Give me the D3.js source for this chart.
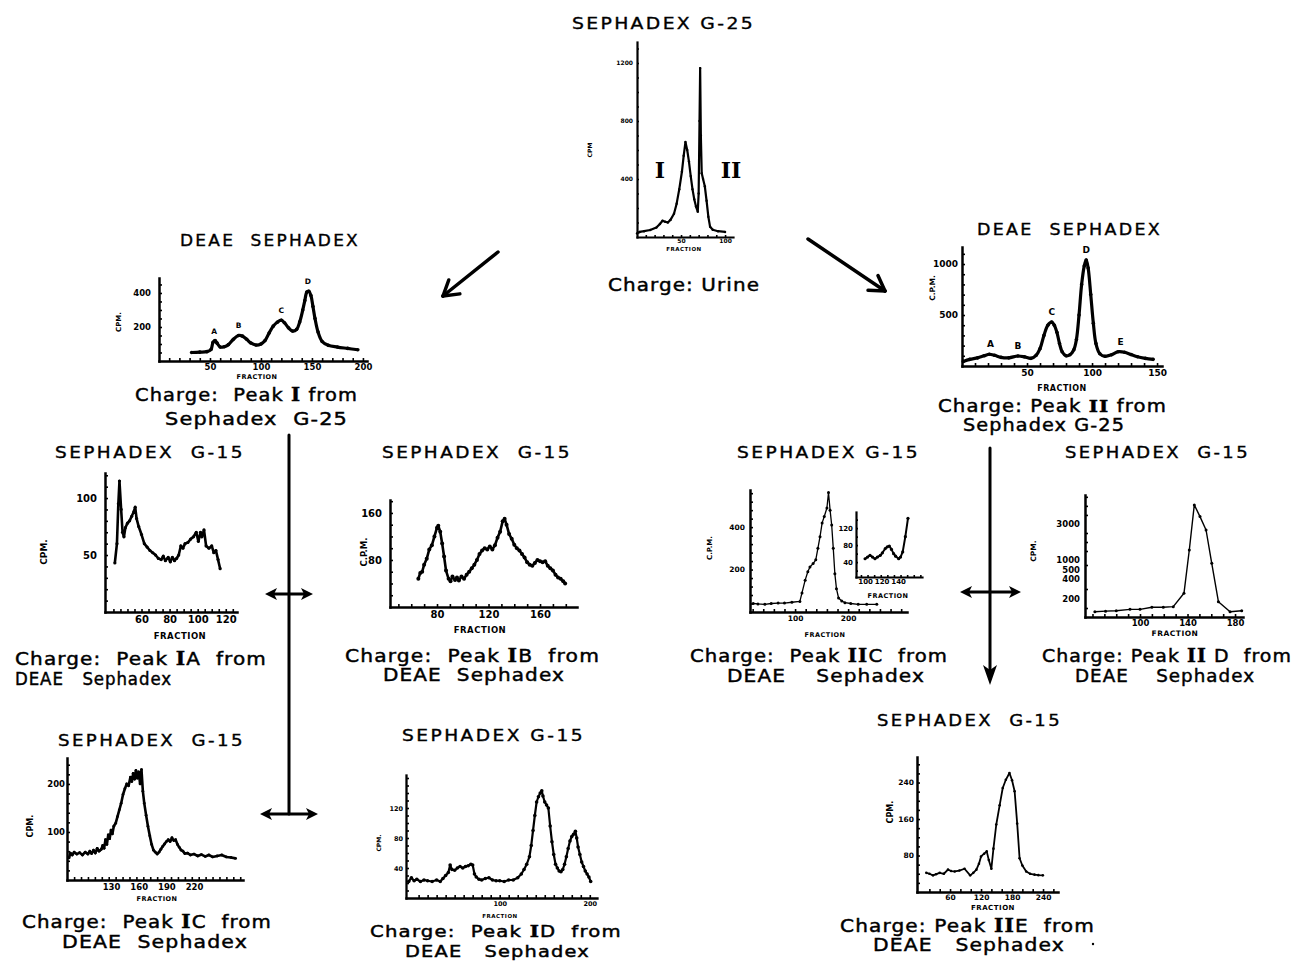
<!DOCTYPE html>
<html><head><meta charset="utf-8">
<script src="https://cdn.jsdelivr.net/npm/d3@7"></script>
<style>body{margin:0;background:#fff}svg{display:block}</style>
</head><body>
<svg id="c" width="1295" height="963"></svg>
<script>
// ---------------- DATA (fraction, cpm) ----------------
const g25Points = [[0,25],[3,35],[8,40],[15,48],[22,65],[26,90],[29,112],[32,105],[35,100],[38,118],[42,160],[45,230],[48,330],[51,450],[53,560],[55,655],[57,600],[59,520],[61,420],[63,330],[65,260],[67,210],[69,175],[70,300],[71,800],[71.7,1165],[72.5,700],[73.5,440],[75,400],[77,350],[79,250],[81,140],[83,70],[86,50],[92,40],[100,35]];
const g25XTicks = [50,100];
const g25YTicks = [400,800,1200];

const deaeIPoints = [[32,50],[40,52],[47,55],[51,68],[53,110],[55,120],[57,105],[60,82],[64,84],[68,96],[73,128],[78,150],[82,146],[86,128],[90,106],[95,94],[100,100],[104,120],[108,165],[112,205],[116,228],[120,240],[123,225],[127,195],[131,176],[135,186],[138,230],[141,300],[143,355],[145,405],[147,410],[149,385],[151,320],[153,250],[156,170],[160,115],[166,92],[175,82],[185,74],[195,66]];
const deaeIPeaks = [["A",54,120],["B",78,150],["C",120,240],["D",146,410]];
const deaeIXTicks = [50,100,150,200];
const deaeIYTicks = [200,400];

const deaeIIPoints = [[1,45],[6,65],[12,80],[17,100],[21,115],[25,105],[30,85],[36,80],[43,98],[48,90],[53,75],[57,105],[60,170],[63,300],[66,400],[69,430],[71,400],[73,330],[75,220],[77,140],[80,100],[83,110],[86,160],[88,260],[90,500],[92,800],[94,980],[95.5,1040],[97,960],[99,700],[101,420],[103,220],[106,120],[110,95],[115,110],[120,140],[125,135],[130,112],[135,90],[141,75],[147,65]];
const deaeIIPeaks = [["A",22,115],["B",43,98],["C",69,430],["D",95.5,1040],["E",122,140]];
const deaeIIXTicks = [50,100,150];
const deaeIIYTicks = [500,1000];

const iaPoints = [[41,43],[42.5,60],[43.5,95],[44.3,115],[45.5,90],[46.5,70],[47.5,66],[48.5,74],[50,78],[51.5,80],[53,84],[54.5,88],[55.5,92],[56.5,82],[58,75],[60,68],[62,60],[64,57],[66,54],[68,52],[70,50],[72,47],[74,46],[75.5,49],[77,45],[79,48],[80.5,44],[82,48],[83.5,45],[85,47],[86.5,50],[88,58],[89.5,56],[91,60],[93,61],[95,64],[97,66],[99,70],[100.5,62],[102,70],[103,66],[104.5,72],[106,58],[108,56],[110,58],[111.5,52],[113,54],[114.5,46],[116,38]];
const iaXTicks = [60,80,100,120];
const iaYTicks = [50,100];

const ibPoints = [[65.5,48],[67,58],[68.5,60],[70,72],[72,82],[74,98],[76,105],[78,120],[80,135],[81,138],[82.5,128],[84,108],[85.5,86],[87,62],[89,48],[90.5,44],[92,52],[94,46],[95.5,50],[97,45],[99,52],[101,48],[103,55],[105,60],[107,66],[109,72],[111,80],[113,90],[115,96],[117,100],[119,98],[121,103],[123,98],[125,105],[127,118],[129,128],[131,146],[132.5,150],[134,140],[136,124],[138,116],[140,106],[142,100],[144,96],[146,90],[148,84],[150,76],[152,72],[154,70],[156,75],[158,80],[160,78],[162,76],[164,78],[166,70],[168,66],[170,62],[172,55],[174,50],[176,48],[178,44],[179.5,40]];
const ibXTicks = [80,120,160];
const ibYTicks = [80,160];

const iicPoints = [[21,40],[30,38],[43,36],[55,40],[68,42],[80,42],[94,46],[109,50],[113,90],[119,150],[124,190],[128,212],[134,228],[139,246],[143,300],[147,355],[151,420],[155,450],[160,490],[163,563],[166,480],[169,410],[172,300],[175,180],[178,110],[182,66],[188,52],[194,44],[205,40],[219,36],[235,36],[254,36]];
const iicXTicks = [100,200];
const iicYTicks = [200,400];
const iicInsetPoints = [[100,48],[103,52],[106,56],[109,52],[112,48],[115,52],[118.5,56],[121,62],[124.5,72],[127,76],[129.4,78],[132,70],[134.6,60],[137,54],[140.7,48],[143,52],[145.6,64],[148.8,100],[152,143]];
const iicInsetXTicks = [100,120,140];
const iicInsetYTicks = [40,80,120];

const iidPoints = [[62,59],[71,65],[80,70],[91.6,85],[100,85],[110,108],[119.6,108],[128,115],[137,257],[141.5,1556],[145.7,4055],[150.5,3407],[155.6,2667],[160.4,833],[166,170],[175.8,59],[185.6,70]];
const iidXTicks = [100,140,180];
const iidYTicks = [200,400,500,1000,3000];

const icPoints = [[84.5,46],[86,56],[88,52],[90,58],[93,54],[96,57],[99,52],[102,58],[105,54],[107,60],[109,55],[111,62],[113,56],[115,66],[117,60],[119.5,64],[121,72],[122.5,66],[124,84],[125.5,74],[127,94],[128.5,86],[130,104],[131.5,96],[133,112],[135,118],[137,132],[139,146],[141,160],[143,178],[145,190],[147,200],[149,196],[151,214],[152.5,205],[154,222],[155.5,210],[157,228],[158.5,212],[160,225],[161.5,200],[163,230],[164.5,185],[166,160],[168,135],[170,112],[172,92],[174,74],[176,62],[178,58],[180,54],[182,58],[184,64],[186,70],[188,75],[190,80],[192,84],[194,80],[196,88],[198,82],[200,84],[202,74],[204,68],[206,62],[208,60],[210,55],[213,56],[216,52],[220,54],[224,50],[228,53],[232,49],[236,52],[240,48],[245,50],[250,52],[255,48],[260,47],[265,45]];
const icXTicks = [130,160,190,220];
const icYTicks = [100,200];

const idPoints = [[-1,22],[2,27],[5,23],[8,25],[12,22],[16,24],[20,23],[25,22],[30,24],[34,22],[37,26],[40,30],[43,34],[45,44],[47,38],[50,37],[53,40],[56,42],[59,40],[62,42],[65,43],[68,45],[70,44],[72,32],[74,28],[77,25],[80,24],[84,26],[88,27],[92,24],[96,23],[100,23],[105,22],[110,24],[115,24],[120,27],[124,32],[127,38],[130,45],[133,55],[135,70],[137,90],[139,110],[141,128],[143,135],[145,140],[146.7,143],[148,136],[150,128],[152,124],[154,120],[156,96],[158,75],[160,58],[162,45],[164,40],[166,36],[168,35],[170,38],[172,45],[174,55],[176,66],[178,76],[180,82],[182,85],[184,89],[185.5,80],[187,68],[189,58],[191,48],[193,42],[195,36],[197,32],[199,28],[201,22]];
const idXTicks = [100,200];
const idYTicks = [40,80,120];

const iiePoints = [[14,42],[20,40],[27,36.5],[33,39],[40,42],[48,40],[56,49],[62,46],[69,45],[78,47],[88,51],[99,36.5],[105,42],[111,49],[116,62],[120,78],[126,84],[131,89],[135,70],[140,51],[144,95],[149.5,148],[156,190],[162,228],[168,246],[175,261],[180,245],[185,221],[190,150],[194.6,74],[200,58],[207.5,45],[215,40],[223.6,38],[231,37],[239.7,36.5]];
const iieXTicks = [60,120,180,240];
const iieYTicks = [80,160,240];

// ---------------- DRAWING ----------------
const svg = d3.select("#c");
const SANS = "DejaVu Sans, Verdana, sans-serif";
const SERIF = "DejaVu Serif, Liberation Serif, serif";

function txt(x, y, parts, size, o = {}) {
  const t = svg.append("text").attr("x", x).attr("y", y)
    .attr("font-family", SANS).attr("font-size", size)
    .attr("font-weight", o.weight || "normal")
    .attr("text-anchor", o.anchor || "start")
    .attr("fill", "#000")
    .style("white-space", "pre");
  if (o.ls) t.attr("letter-spacing", o.ls);
  if (o.sw) t.attr("stroke", "#000").attr("stroke-width", o.sw);
  if (o.rot) t.attr("transform", `rotate(-90,${x},${y})`);
  (Array.isArray(parts) ? parts : [[parts]]).forEach(p => {
    const s = t.append("tspan").text(p[0]);
    if (p[1]) s.attr("font-family", SERIF).attr("font-weight", "bold");
  });
  if (o.len) t.attr("textLength", o.len).attr("lengthAdjust", "spacingAndGlyphs");
  return t;
}
const T = { ls: 2, sw: 0.35 };      // panel titles
const C = { ls: 1, sw: 0.45 };      // charge captions

function panel(p) {
  const g = svg.append("g");
  const x = d3.scaleLinear().domain(p.xd).range(p.xr);
  const y = p.yScale || d3.scaleLinear().domain(p.yd).range(p.yr);
  const yb = p.yr[0], xl = p.xr[0];
  const aw = p.aw || 2.5;
  const tk = p.tk || 3;
  const fmt = d3.format("d");
  const ax = g.append("g").attr("transform", `translate(0,${yb})`)
    .call(d3.axisBottom(x).tickValues(p.xMinor).tickSizeInner(-tk).tickSizeOuter(0).tickFormat(""));
  const ay = g.append("g").attr("transform", `translate(${xl},0)`)
    .call(d3.axisLeft(y).tickValues(p.yMinor).tickSizeInner(-tk).tickSizeOuter(0).tickFormat(""));
  [ax, ay].forEach(a => {
    a.select(".domain").attr("stroke", "#000").attr("stroke-width", aw).attr("stroke-linecap", "square");
    a.selectAll(".tick line").attr("stroke", "#000").attr("stroke-width", 1.6);
  });
  const lx = g.append("g").attr("transform", `translate(0,${yb})`)
    .call(d3.axisBottom(x).tickValues(p.xTicks).tickSize(0).tickPadding(p.xpad || 3).tickFormat(fmt));
  const ly = g.append("g").attr("transform", `translate(${xl},0)`)
    .call(d3.axisLeft(y).tickValues(p.yTicks).tickSize(0).tickPadding(p.ypad || 4).tickFormat(fmt));
  [lx, ly].forEach(a => {
    a.select(".domain").remove();
    a.selectAll("text").attr("font-family", SANS).attr("font-size", p.fs || 9)
      .attr("font-weight", "bold").attr("fill", "#000");
  });
  const line = d3.line().x(d => x(d[0])).y(d => y(d[1]))
    .curve(p.smooth ? d3.curveCatmullRom.alpha(0.5) : d3.curveLinear);
  g.append("path").datum(p.data).attr("d", line)
    .attr("fill", "none").attr("stroke", "#000")
    .attr("stroke-width", p.lw || 2.5).attr("stroke-linejoin", "round");
  if (p.dots) {
    g.selectAll("circle.pt").data(p.data).join("circle").attr("class", "pt")
      .attr("cx", d => x(d[0])).attr("cy", d => y(d[1])).attr("r", p.dots).attr("fill", "#000");
  }
  if (p.peaks) {
    p.peaks.forEach(k => {
      txt(x(k[1]), y(k[2]) - (p.peakOff || 7), k[0], p.peakFs || 8, { anchor: "middle", weight: "bold" });
    });
  }
  if (p.frac) txt(p.frac[0], p.frac[1], "FRACTION", p.frac[2], { anchor: "middle", weight: "bold", ls: 0.5 });
  if (p.cpm) txt(p.cpm[0], p.cpm[1], p.cpm[3] || "CPM.", p.cpm[2], { anchor: "middle", weight: "bold", rot: true });
  return { x, y };
}

// ---- Sephadex G-25 (top) ----
panel({ xd: [0, 109], xr: [637, 733], yd: [0, 1345], yr: [237, 42],
  xMinor: d3.range(10, 110, 10), yMinor: d3.range(100, 1345, 100),
  xTicks: g25XTicks, yTicks: g25YTicks, fs: 6, aw: 2.2, tk: 2, xpad: 2, ypad: 4,
  data: g25Points, lw: 2.2, dots: 1.2, frac: [684, 251, 5.5], cpm: [592, 150, 6, "CPM"] });
txt(572, 29, "SEPHADEX G-25", 16, { ...T, len: 183 });
txt(660, 178, [["I", 1]], 22, { anchor: "middle" });
txt(731, 178, [["II", 1]], 22, { anchor: "middle" });
txt(608, 291, "Charge: Urine", 18, { ...C, len: 152 });

// ---- DEAE Sephadex (peak I) ----
panel({ xd: [0, 204], xr: [159, 367], yd: [0, 488], yr: [361, 278],
  xMinor: d3.range(10, 204, 10), yMinor: d3.range(50, 488, 50),
  xTicks: deaeIXTicks, yTicks: deaeIYTicks, fs: 8.5, aw: 2.5, xpad: 3, ypad: 8,
  data: deaeIPoints, lw: 3.2, dots: 1.8, smooth: true, peaks: deaeIPeaks, peakFs: 7.5,
  frac: [257, 379, 6.5], cpm: [121, 322, 7, "CPM."] });
txt(180, 246, "DEAE\u00A0\u00A0SEPHADEX", 15, { ...T, len: 180 });
txt(135, 401, [["Charge:  Peak "], ["I", 1], [" from"]], 18, { ...C, len: 223 });
txt(165, 425, "Sephadex  G-25", 18, { ...C, len: 183 });

// ---- DEAE Sephadex (peak II) ----
panel({ xd: [0, 153.8], xr: [962, 1162], yd: [0, 1167], yr: [366, 247],
  xMinor: d3.range(10, 154, 10), yMinor: d3.range(100, 1167, 100),
  xTicks: deaeIIXTicks, yTicks: deaeIIYTicks, fs: 9, aw: 2.5, xpad: 4, ypad: 4,
  data: deaeIIPoints, lw: 3.2, dots: 1.8, smooth: true, peaks: deaeIIPeaks, peakFs: 9,
  frac: [1062, 391, 8], cpm: [935, 288, 7.5, "C.P.M."] });
txt(977, 235, "DEAE\u00A0\u00A0SEPHADEX", 15, { ...T, len: 185 });
txt(938, 412, [["Charge: Peak "], ["II", 1], [" from"]], 17.5, { ...C, len: 229 });
txt(963, 431, "Sephadex G-25", 17.5, { ...C, len: 162 });

// ---- G-15, Peak IA ----
panel({ xd: [34, 128], xr: [105, 237], yd: [0, 122], yr: [612, 473],
  xMinor: d3.range(40, 128, 5), yMinor: d3.range(10, 122, 10),
  xTicks: iaXTicks, yTicks: iaYTicks, fs: 10, aw: 2.5, xpad: 4, ypad: 8,
  data: iaPoints, lw: 2.6, dots: 1.6, frac: [180, 639, 8.5], cpm: [47, 552, 9, "CPM."] });
txt(55, 458, "SEPHADEX  G-15", 15, { ...T, len: 190 });
txt(15, 665, [["Charge:  Peak "], ["I", 1], ["A  from"]], 18, { ...C, len: 252 });
txt(15, 685, "DEAE\u00A0\u00A0\u00A0Sephadex", 18, { ...C, len: 157 });

// ---- G-15, Peak IB ----
panel({ xd: [43.5, 188.7], xr: [390, 577], yd: [0, 182], yr: [607, 500],
  xMinor: d3.range(50, 188, 10), yMinor: d3.range(20, 182, 20),
  xTicks: ibXTicks, yTicks: ibYTicks, fs: 10, aw: 2.5, xpad: 4, ypad: 8,
  data: ibPoints, lw: 2.6, dots: 2, frac: [480, 633, 8.5], cpm: [367, 552, 8.5, "C.P.M."] });
txt(382, 458, "SEPHADEX  G-15", 15, { ...T, len: 190 });
txt(345, 662, [["Charge:  Peak "], ["I", 1], ["B  from"]], 18, { ...C, len: 255 });
txt(383, 681, "DEAE  Sephadex", 18, { ...C, len: 182 });

// ---- G-15, Peak IIC ----
panel({ xd: [15, 311], xr: [750, 907], yd: [0, 575], yr: [612, 490],
  xMinor: d3.range(20, 311, 20), yMinor: d3.range(40, 575, 40),
  xTicks: iicXTicks, yTicks: iicYTicks, fs: 7.5, aw: 2.5, xpad: 4, ypad: 5,
  data: iicPoints, lw: 1.3, dots: 1.5, frac: [825, 637, 6.5], cpm: [712, 548, 7, "C.P.M."] });
panel({ xd: [89, 169], xr: [856, 922], yd: [5, 158], yr: [577, 512],
  xMinor: d3.range(95, 169, 8), yMinor: d3.range(20, 158, 20),
  xTicks: iicInsetXTicks, yTicks: iicInsetYTicks, fs: 7, aw: 2.2, tk: 2, xpad: 2, ypad: 3,
  data: iicInsetPoints, lw: 2, dots: 1.6, frac: [888, 598, 6.5] });
txt(737, 458, "SEPHADEX G-15", 15, { ...T, len: 183 });
txt(690, 662, [["Charge:  Peak "], ["II", 1], ["C  from"]], 18, { ...C, len: 258 });
txt(727, 682, "DEAE\u00A0\u00A0\u00A0\u00A0Sephadex", 18, { ...C, len: 198 });

// ---- G-15, Peak IID (uneven CPM axis) ----
const iidY = d3.scaleLinear().domain([0, 200, 400, 500, 1000, 3000, 4600]).range([617, 599, 579, 570, 560, 524, 495]);
panel({ xd: [53.7, 186.7], xr: [1085, 1243], yScale: iidY, yr: [617, 495],
  xMinor: d3.range(60, 186, 10), yMinor: [100, 300, 750, 1500, 2000, 2500, 3500, 4000, 4500],
  xTicks: iidXTicks, yTicks: iidYTicks, fs: 8.5, aw: 2.5, xpad: 3, ypad: 5,
  data: iidPoints, lw: 1.4, dots: 1.5, frac: [1175, 636, 7.5], cpm: [1036, 551, 7.5, "CPM."] });
txt(1065, 458, "SEPHADEX  G-15", 15, { ...T, len: 185 });
txt(1042, 662, [["Charge: Peak "], ["II", 1], [" D  from"]], 18, { ...C, len: 250 });
txt(1075, 682, "DEAE\u00A0\u00A0\u00A0\u00A0Sephadex", 18, { ...C, len: 180 });

// ---- G-15, Peak IC ----
panel({ xd: [82.3, 273], xr: [67, 243], yd: [0, 254], yr: [880, 758],
  xMinor: d3.range(90, 273, 7.5), yMinor: d3.range(20, 254, 20),
  xTicks: icXTicks, yTicks: icYTicks, fs: 8.5, aw: 2.5, xpad: 4, ypad: 2,
  data: icPoints, lw: 2.6, dots: 1.4, frac: [157, 901, 6.5], cpm: [33, 826, 8, "CPM."] });
txt(58, 746, "SEPHADEX  G-15", 15, { ...T, len: 187 });
txt(22, 928, [["Charge:  Peak "], ["I", 1], ["C  from"]], 18, { ...C, len: 250 });
txt(62, 948, "DEAE\u00A0\u00A0Sephadex", 18, { ...C, len: 186 });

// ---- G-15, Peak ID ----
panel({ xd: [-4, 208], xr: [406, 597], yd: [0, 164], yr: [898, 775],
  xMinor: d3.range(10, 208, 10), yMinor: d3.range(10, 164, 10),
  xTicks: idXTicks, yTicks: idYTicks, fs: 6.5, aw: 2.3, xpad: 3, ypad: 3,
  data: idPoints, lw: 2.2, dots: 1.8, frac: [500, 918, 5.5], cpm: [381, 843, 6, "CPM."] });
txt(402, 741, "SEPHADEX G-15", 15, { ...T, len: 183 });
txt(370, 937, [["Charge:  Peak "], ["I", 1], ["D  from"]], 16, { ...C, len: 252 });
txt(405, 957, "DEAE\u00A0\u00A0\u00A0Sephadex", 16, { ...C, len: 185 });

// ---- G-15, Peak IIE ----
panel({ xd: [-4, 269], xr: [917, 1058], yd: [0, 296], yr: [892, 757],
  xMinor: d3.range(20, 269, 20), yMinor: d3.range(20, 296, 20),
  xTicks: iieXTicks, yTicks: iieYTicks, fs: 7.5, aw: 2.5, xpad: 3, ypad: 3,
  data: iiePoints, lw: 1.8, dots: 1.3, frac: [993, 910, 7], cpm: [893, 812, 8, "CPM."] });
txt(877, 726, "SEPHADEX  G-15", 15, { ...T, len: 185 });
txt(840, 932, [["Charge: Peak "], ["II", 1], ["E  from"]], 18, { ...C, len: 255 });
txt(873, 951, "DEAE\u00A0\u00A0\u00A0Sephadex", 18, { ...C, len: 192 });
svg.append("circle").attr("cx", 1093).attr("cy", 944).attr("r", 1.2).attr("fill", "#000");

// ---------------- ARROWS / CONNECTORS ----------------
function seg(x1, y1, x2, y2, w) {
  svg.append("line").attr("x1", x1).attr("y1", y1).attr("x2", x2).attr("y2", y2)
    .attr("stroke-width", w).attr("stroke", "#000").attr("stroke-linecap", "round");
}
function vHead(x1, y1, x2, y2, len, ang, w) {
  const a = Math.atan2(y2 - y1, x2 - x1);
  [ang, -ang].forEach(s => seg(x2, y2, x2 - len * Math.cos(a + s), y2 - len * Math.sin(a + s), w));
}
function triHead(tx, ty, dx, dy, len, half) {
  const px = -dy, py = dx;
  svg.append("path").attr("fill", "#000")
    .attr("d", `M${tx},${ty}L${tx - dx * len + px * half},${ty - dy * len + py * half}L${tx - dx * len * 0.75},${ty - dy * len * 0.75}L${tx - dx * len - px * half},${ty - dy * len - py * half}Z`);
}
function dbl(x1, x2, y) {
  seg(x1 + 6, y, x2 - 6, y, 3);
  triHead(x1, y, -1, 0, 12, 6);
  triHead(x2, y, 1, 0, 12, 6);
}
seg(498, 252, 443, 296, 3.5); vHead(498, 252, 443, 296, 17, 0.55, 3.5);
seg(808, 239, 885, 291, 3.5); vHead(808, 239, 885, 291, 17, 0.55, 3.5);
seg(289, 435, 289, 814, 3);
dbl(265, 313, 594);
dbl(260, 318, 814);
seg(990, 448, 990, 672, 3);
triHead(990, 685, 0, 1, 20, 7);
dbl(960, 1021, 592);
</script>
</body></html>
